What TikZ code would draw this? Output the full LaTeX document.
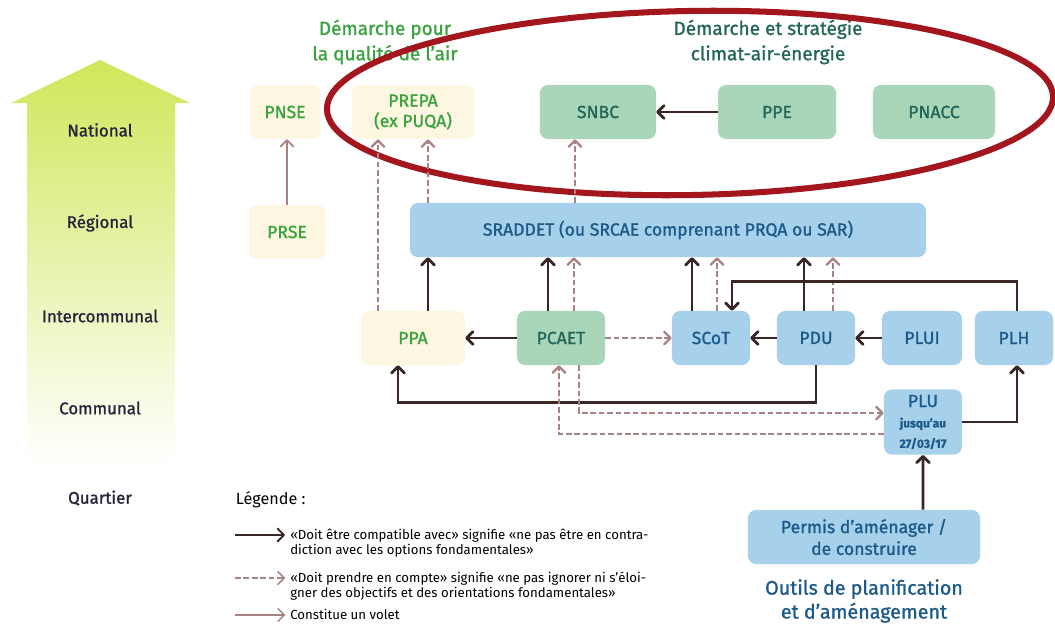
\documentclass[tikz,border=0pt]{standalone}
\usepackage{fontspec}
\setmainfont{Fira Sans}
\newfontfamily\medfont{Fira Sans}[FakeBold=1.2]
\usetikzlibrary{arrows.meta}

\definecolor{paleyellow}{HTML}{FDF7E2}
\definecolor{airgreen}{HTML}{3AA33F}
\definecolor{boxgreen}{HTML}{A9D6B9}
\definecolor{tealtext}{HTML}{23665A}
\definecolor{boxblue}{HTML}{A7D1EA}
\definecolor{bluetext}{HTML}{1B5A8A}
\definecolor{darkbrown}{HTML}{3B2626}
\definecolor{mauve}{HTML}{A98383}
\definecolor{ovalred}{HTML}{A3161E}
\definecolor{arrowlime}{HTML}{CFE75A}
\definecolor{arrowmid}{HTML}{E8F296}
\definecolor{leveltext}{HTML}{25253A}

\newcommand\plusmall{\fontsize{8.5}{9.5}\selectfont\bfseries}

\tikzset{
  box/.style={rounded corners=0.2cm, minimum height=1.35cm, align=center, inner sep=2pt, font=\medfont\fontsize{12.5}{14.5}\selectfont},
  yellowbox/.style={box, fill=paleyellow, text=airgreen},
  greenbox/.style={box, fill=boxgreen, text=tealtext},
  bluebox/.style={box, fill=boxblue, text=bluetext},
  level/.style={text=leveltext, font=\medfont\fontsize{12}{14}\selectfont},
  compat/.style={draw=darkbrown, line width=2pt, -{Straight Barb[round,length=4.5pt,width=9pt]}},
  compte/.style={draw=mauve, line width=1.7pt, dash pattern=on 4pt off 2pt, -{Straight Barb[round,length=4.5pt,width=9pt]}},
  volet/.style={draw=mauve, line width=1.3pt, -{Straight Barb[round,length=4.5pt,width=9pt]}},
  legtext/.style={anchor=north west, align=left, text=black, font=\fontsize{9.4}{10.4}\selectfont, inner sep=0pt},
}

\begin{document}
\begin{tikzpicture}[x=0.025cm, y=-0.025cm]
  \useasboundingbox (0,0) rectangle (1055,625);

  % echelle territoriale
  \shade[top color=arrowlime, middle color=arrowmid, bottom color=white]
    (100,60) -- (190,103) -- (175,103) -- (175,465) -- (27,465) -- (27,103) -- (11,103) -- cycle;
  \foreach \name/\y [count=\i] in {National/130, Régional/223, Intercommunal/316, Communal/408, Quartier/498}
    \node[level] (level\i) at (100,\y) {\name};

  % titres
  \node[text=airgreen, align=center, font=\medfont\fontsize{13.5}{18}\selectfont] (titleair) at (385,42) {Démarche pour\\la qualité de l’air};
  \node[text=tealtext, align=center, font=\medfont\fontsize{13.5}{18}\selectfont] (titleclimat) at (768,42) {Démarche et stratégie\\climat-air-énergie};
  \node[text=bluetext, align=center, font=\medfont\fontsize{14}{17}\selectfont] (titleoutils) at (864,601) {Outils de planification\\et d’aménagement};

  % plans et schemas
  \node[yellowbox, minimum width=1.75cm] (PNSE) at (285,112) {PNSE};
  \node[yellowbox, minimum width=1.9cm] (PRSE) at (287,232) {PRSE};
  \node[yellowbox, minimum width=3.05cm] (PREPA) at (413,112) {PREPA\\(ex PUQA)};
  \node[greenbox, minimum width=2.9cm] (SNBC) at (598,112) {SNBC};
  \node[greenbox, minimum width=2.95cm] (PPE) at (777,112) {PPE};
  \node[greenbox, minimum width=3.05cm] (PNACC) at (934,112) {PNACC};
  \node[bluebox, minimum width=12.9cm] (SRADDET) at (668,230) {SRADDET (ou SRCAE comprenant PRQA ou SAR)};
  \node[yellowbox, minimum width=2.6cm] (PPA) at (413,338) {PPA};
  \node[greenbox, minimum width=2.2cm] (PCAET) at (561,338) {PCAET};
  \node[bluebox, minimum width=1.95cm] (SCoT) at (711,338) {SCoT};
  \node[bluebox, minimum width=1.95cm] (PDU) at (816,338) {PDU};
  \node[bluebox, minimum width=2cm] (PLUI) at (922,338) {PLUI};
  \node[bluebox, minimum width=1.95cm] (PLH) at (1014,338) {PLH};
  \node[bluebox, minimum width=1.95cm, minimum height=1.63cm] (PLU) at (923,422) {PLU\\{\plusmall jusqu’au}\\{\plusmall 27/03/17}};
  \node[bluebox, minimum width=5.8cm, font=\medfont\fontsize{12.5}{15.5}\selectfont] (Permis) at (864,537) {Permis d’aménager /\\de construire};

  \draw[ovalred, line width=4.3pt, rotate around={1:(690,103)}] (690,103) ellipse [x radius=9.075cm, y radius=2.3cm];

  % liens
  \draw[volet] (PRSE.north) -- (PRSE.north |- PNSE.south);
  \draw[compte] ([xshift=-0.875cm]PPA.north) -- ([xshift=-0.875cm]PREPA.south);
  \draw[compte] ([xshift=0.375cm]PREPA.south |- SRADDET.north) -- ([xshift=0.375cm]PREPA.south);
  \draw[compat] ([xshift=0.375cm]PPA.north) -- ([xshift=0.375cm]PPA.north |- SRADDET.south);
  \draw[compte] ([xshift=-0.575cm]SNBC.south |- SRADDET.north) -- ([xshift=-0.575cm]SNBC.south);
  \draw[compat] (PPE) -- (SNBC);
  \draw[compat] (PCAET) -- (PPA);
  \draw[compat] ([xshift=-0.325cm]PCAET.north) -- ([xshift=-0.325cm]PCAET.north |- SRADDET.south);
  \draw[compte] ([xshift=0.325cm]PCAET.north) -- ([xshift=0.325cm]PCAET.north |- SRADDET.south);
  \draw[compte] (PCAET) -- (SCoT);
  \draw[compat] ([xshift=-0.475cm]SCoT.north) -- ([xshift=-0.475cm]SCoT.north |- SRADDET.south);
  \draw[compte] ([xshift=0.15cm]SCoT.north) -- ([xshift=0.15cm]SCoT.north |- SRADDET.south);
  \draw[compat] ([xshift=-0.3cm]PDU.north) -- ([xshift=-0.3cm]PDU.north |- SRADDET.south);
  \draw[compte] ([xshift=0.425cm]PDU.north) -- ([xshift=0.425cm]PDU.north |- SRADDET.south);
  \draw[compat] ([xshift=0.075cm]PLH.north) |- ([xshift=0.525cm,yshift=0.725cm]SCoT.north) -- ([xshift=0.525cm]SCoT.north);
  \draw[compat] (PDU) -- (SCoT);
  \draw[compat] (PLUI) -- (PDU);
  \draw[compat] (PDU.south) |- ([xshift=-0.375cm,yshift=-0.925cm]PPA.south) -- ([xshift=-0.375cm]PPA.south);
  \draw[compat] (PLU.east) -| ([xshift=0.075cm]PLH.south);
  \draw[compat] ([xshift=1.475cm]Permis.north) -- (PLU.south);
  \draw[compte] ([xshift=0.45cm]PCAET.south) |- ([yshift=0.225cm]PLU.west);
  \draw[compte] ([yshift=-0.3cm]PLU.west) -| ([xshift=-0.05cm]PCAET.south);

  % legende
  \node[anchor=west, font=\fontsize{11.5}{13}\selectfont] (legtitle) at (231,500) {Légende :};
  \coordinate (leg1a) at (235,535); \coordinate (leg1b) at (285,535);
  \coordinate (leg2a) at (235,578); \coordinate (leg2b) at (285,578);
  \coordinate (leg3a) at (235,615); \coordinate (leg3b) at (285,615);
  \draw[compat, line width=1.4pt] (leg1a) -- (leg1b);
  \draw[compte, line width=1.1pt] (leg2a) -- (leg2b);
  \draw[volet, line width=0.9pt] (leg3a) -- (leg3b);
  \node[legtext] (leg1) at (290,529) {«Doit être compatible avec» signifie «ne pas être en contra-\\diction avec les options fondamentales»};
  \node[legtext] (leg2) at (290,572) {«Doit prendre en compte» signifie «ne pas ignorer ni s’éloi-\\gner des objectifs et des orientations fondamentales»};
  \node[legtext] (leg3) at (290,609) {Constitue un volet};
\end{tikzpicture}
\end{document}
